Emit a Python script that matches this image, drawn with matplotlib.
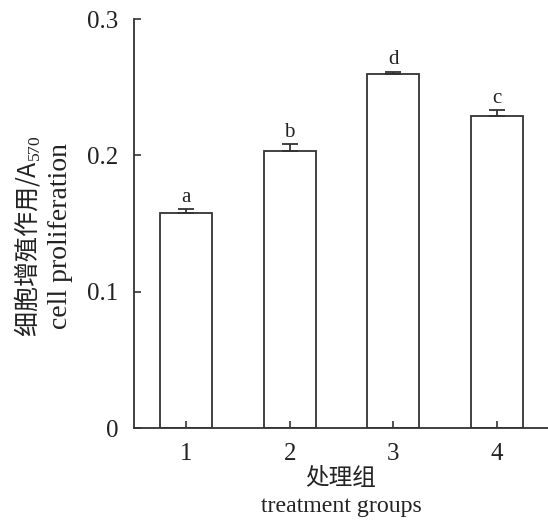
import matplotlib
matplotlib.use("Agg")
import matplotlib.pyplot as plt

groups = ["1", "2", "3", "4"]
values = [0.1575, 0.2035, 0.2595, 0.2288]
errors = [0.0032, 0.0050, 0.0020, 0.0045]
letters = ["a", "b", "d", "c"]
yticks = [0, 0.1, 0.2, 0.3]
ytick_labels = ["0", "0.1", "0.2", "0.3"]

serif = ["Liberation Serif", "Noto Sans CJK SC", "DejaVu Serif"]
plt.rcParams['font.family'] = serif
plt.rcParams['mathtext.fontset'] = 'custom'
plt.rcParams['mathtext.rm'] = 'Liberation Serif'

col = "#333333"
tcol = "#222222"
fig = plt.figure(figsize=(5.48, 5.21), dpi=100)
ax = fig.add_axes([0.2445, 0.1785, 0.7555, 0.785])

x = list(range(1, len(groups) + 1))
ax.bar(x, values, width=0.5, color="white", edgecolor=col, linewidth=1.3)
ax.errorbar(x, values, yerr=[[0] * len(errors), errors], fmt="none",
            ecolor=col, elinewidth=1.3, capsize=6, capthick=1.3)
for xi, v, e, l in zip(x, values, errors, letters):
    ax.text(xi, v + e + 0.0015, l, ha="center", va="bottom", fontsize=15,
            color=tcol, family=serif)

ax.set_xlim(0.5, 4.49)
ax.set_ylim(0, 0.3)
ax.set_xticks(x)
ax.set_xticklabels(groups)
ax.set_yticks(yticks)
ax.set_yticklabels(ytick_labels)
ax.tick_params(direction="in", length=5, width=1.2, colors=col,
               labelsize=18, labelcolor=tcol, pad=11)
for s in ["top", "right"]:
    ax.spines[s].set_visible(False)
for s in ["left", "bottom"]:
    ax.spines[s].set_color(col)
    ax.spines[s].set_linewidth(1.3)

xc = 0.5 * (0.2445 + 1.0)
fig.text(xc, 0.082, "处理组", ha="center", va="center",
         fontsize=17, color=tcol, family=["Noto Sans CJK SC"], fontweight="light")
fig.text(xc, 0.027, "treatment groups", ha="center",
         va="center", fontsize=17.2, color=tcol, family=serif)
fig.text(0.050, 0.547, "细胞增殖作用/A$_{570}$", rotation=90, ha="center",
         va="center", fontsize=18, color=tcol,
         family=["Noto Sans CJK SC", "Liberation Serif"], fontweight="light")
fig.text(0.110, 0.547, "cell proliferation", rotation=90, ha="center",
         va="center", fontsize=20, color=tcol, family=serif)

fig.savefig("out.png", dpi=100)
